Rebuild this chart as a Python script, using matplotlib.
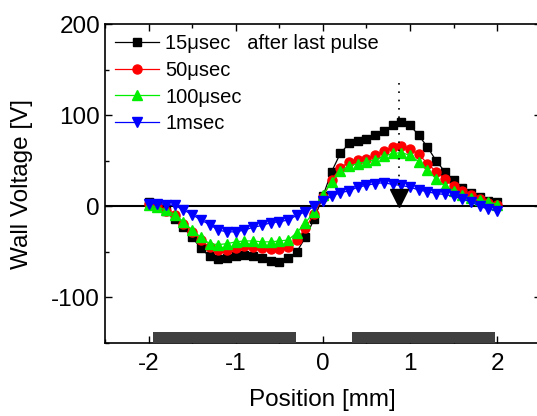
import numpy as np
import matplotlib
matplotlib.use("Agg")
import matplotlib.pyplot as plt
from matplotlib.ticker import MultipleLocator

plt.rcParams['font.family'] = ['Liberation Sans', 'DejaVu Sans']
plt.rcParams['axes.unicode_minus'] = False

# Position along the cell [mm], 0.1 mm steps
position = np.round(np.arange(-2.0, 2.01, 0.1), 1)

# Wall voltage [V]
v_15us = [5, 1, -5, -14, -23, -34, -46, -55, -58, -57, -55,
          -53, -54, -57, -60, -61, -57, -50, -34, -14, 11,
          38, 58, 69, 72, 74, 78, 83, 89, 93, 89,
          78, 65, 50, 38, 29, 20, 15, 10, 6, 5]
v_50us = [3, 0, -5, -10, -19, -28, -37, -45, -48, -48, -46,
          -44, -45, -46, -47, -47, -45, -37, -24, -8, 10,
          29, 42, 49, 51, 52, 56, 61, 65, 66, 63,
          57, 47, 38, 30, 22, 17, 12, 8, 4, 1]
v_100us = [2, -1, -4, -9, -17, -26, -34, -41, -42, -41, -39,
           -38, -38, -39, -39, -38, -37, -29, -18, -6, 12,
           27, 39, 44, 47, 49, 51, 55, 58, 59, 56,
           49, 40, 30, 22, 17, 12, 9, 7, 5, 2]
v_1ms = [3, 3, 2, 1, -4, -9, -15, -20, -26, -28, -28,
         -26, -23, -21, -18, -17, -15, -10, -6, 0, 6,
         11, 15, 17, 21, 23, 25, 26, 24, 23, 21,
         18, 16, 14, 13, 11, 8, 5, 0, -3, -5]

series = [
    ("15\u03bcsec   after last pulse", v_15us, "black", "s", 6),
    ("50\u03bcsec", v_50us, "red", "o", 6.5),
    ("100\u03bcsec", v_100us, "#00ee00", "^", 7),
    ("1msec", v_1ms, "blue", "v", 7.5),
]

# electrodes drawn at the bottom of the plot [mm]
electrodes = [(-1.95, -0.31), (0.33, 1.97)]
electrode_bottom = -150
electrode_top = -138

# peak marker (dotted line + arrow)
arrow_x = 0.87
arrow_top = 135
arrow_tip = 3

fig = plt.figure(figsize=(5.37, 4.16), dpi=100)
ax = fig.add_axes([0.1955, 0.1755, 0.8115, 0.7665])

for label, vals, color, marker, ms in series:
    ax.plot(position, vals, color=color, marker=marker, markersize=ms,
            markeredgecolor=color, linewidth=0.9, label=label)

ax.axhline(0, color='black', linewidth=1.5, zorder=1)

for x0, x1 in electrodes:
    ax.bar((x0 + x1) / 2, electrode_top - electrode_bottom, width=x1 - x0,
           bottom=electrode_bottom, color='#404040', zorder=3)

ax.plot([arrow_x, arrow_x], [arrow_top, arrow_tip + 10], color='black',
        linestyle=(0, (1, 4)), linewidth=1.2, zorder=4)
ax.plot([arrow_x], [arrow_tip + 6], marker='v', markersize=13,
        color='black', zorder=5)

ax.set_xlim(-2.5, 2.5)
ax.set_ylim(-150, 200)
ax.xaxis.set_major_locator(MultipleLocator(1))
ax.xaxis.set_minor_locator(MultipleLocator(0.5))
ax.yaxis.set_major_locator(MultipleLocator(100))
ax.yaxis.set_minor_locator(MultipleLocator(50))
ax.tick_params(which='both', direction='in', top=True, right=True,
               labelsize=17.5, width=1)
ax.tick_params(axis='x', pad=7)
ax.tick_params(which='major', length=5)
ax.tick_params(which='minor', length=3)
for s in ax.spines.values():
    s.set_linewidth(1.2)

ax.set_xlabel('Position [mm]', fontsize=17.5, labelpad=10)
ax.set_ylabel('Wall Voltage [V]', fontsize=17.5, labelpad=13)

ax.legend(loc='upper left', fontsize=14.5, frameon=False, handlelength=2.2,
          handletextpad=0.3, labelspacing=0.38, borderaxespad=0.1,
          bbox_to_anchor=(0.0, 1.0))

fig.savefig('out.png', dpi=100)
